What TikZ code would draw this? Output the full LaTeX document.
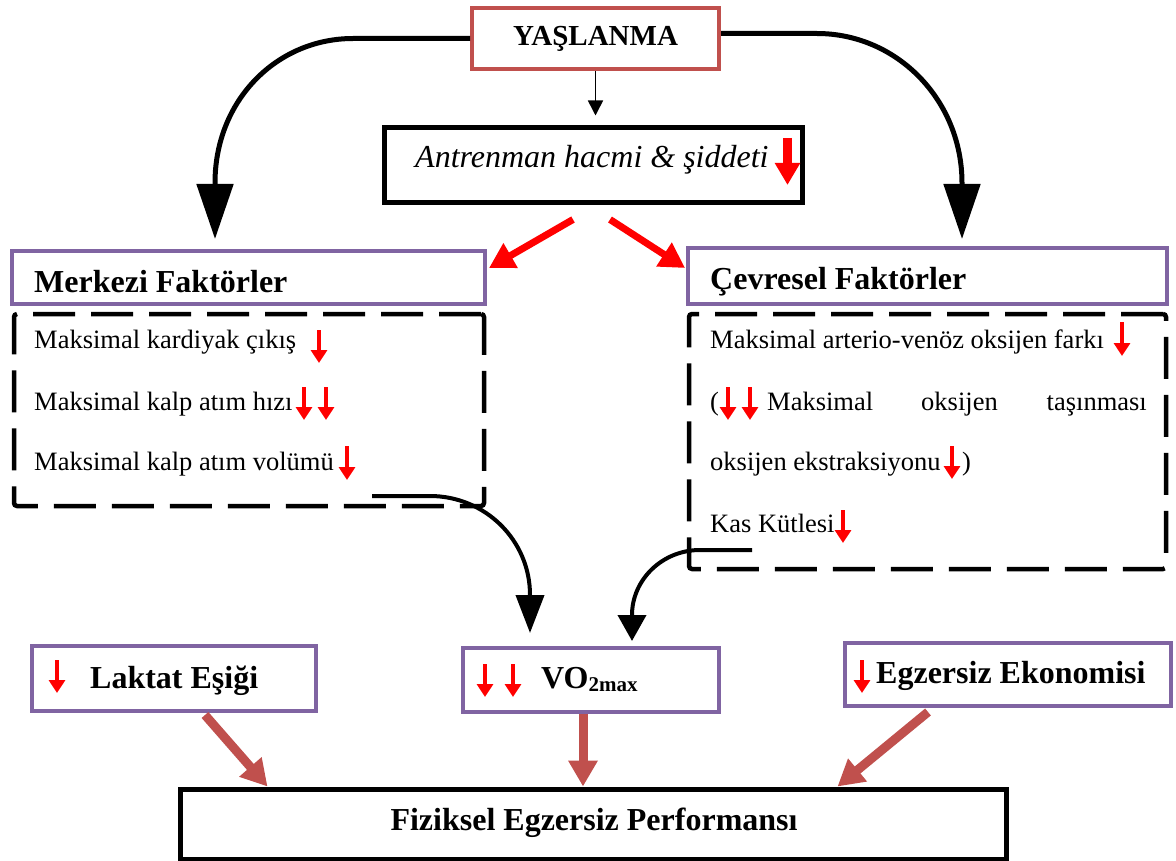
\documentclass[tikz,border=0pt]{standalone}
\usepackage{fontspec}
\setmainfont{Liberation Serif}
\usetikzlibrary{arrows.meta}
\definecolor{boxred}{HTML}{C0504D}
\definecolor{boxpurple}{HTML}{8064A2}
\tikzset{
  redbox/.style={draw=boxred, line width=4pt, inner sep=0pt},
  purplebox/.style={draw=boxpurple, line width=4pt, inner sep=0pt},
  blackbox/.style={draw=black, line width=5pt, inner sep=0pt},
  dashbox/.style={draw=black, line width=4.5pt, dash pattern=on 42pt off 16pt, rounded corners=3pt, inner sep=0pt},
  txt/.style={inner sep=0pt, anchor=base west, font=\fontsize{26.5}{30}\selectfont},
  head/.style={inner sep=0pt, anchor=base west, font=\fontsize{32}{36}\selectfont\bfseries},
  bigcurve/.style={line width=5pt, -{Triangle[length=55pt,width=36pt]}},
  midcurve/.style={line width=4pt},
  thinarr/.style={line width=1.6pt, -{Triangle[length=15pt,width=15pt]}},
  redarr/.style={draw=red, line width=7pt, -{Triangle[length=25pt,width=27pt]}},
  perfarr/.style={draw=boxred, line width=9pt, -{Triangle[length=26pt,width=28pt]}},
  dn/.style={draw=red, line width=3.5pt, -{Triangle[length=13pt,width=16pt]}},
}
\begin{document}
\begin{tikzpicture}[x=1pt,y=-1pt]
\fill[white] (0,0) rectangle (1176,861);
\useasboundingbox (0,0) rectangle (1176,861);

% boxes
\node[redbox, minimum width=247pt, minimum height=61pt, font=\fontsize{29}{32}\selectfont\bfseries] (yas) at (595.5,38.5) {YAŞLANMA};
\node[blackbox, minimum width=418pt, minimum height=75pt] (ant) at (593,165.5) {};
\node[purplebox, minimum width=473pt, minimum height=53pt] (merk) at (248.5,277.5) {};
\node[dashbox, minimum width=470pt, minimum height=192pt] (merkd) at (249,410) {};
\node[purplebox, minimum width=479pt, minimum height=56pt] (cev) at (927.5,276) {};
\node[dashbox, minimum width=477pt, minimum height=255pt] (cevd) at (927.5,441.5) {};
\node[purplebox, minimum width=284pt, minimum height=65pt] (lak) at (174,678.5) {};
\node[purplebox, minimum width=256pt, minimum height=64pt] (vo2) at (591,680) {};
\node[purplebox, minimum width=326pt, minimum height=63pt] (eko) at (1008,674.5) {};
\node[blackbox, minimum width=826pt, minimum height=70pt] (fiz) at (593,824) {};

% texts
\node[inner sep=0pt, anchor=base west, font=\fontsize{32}{36}\selectfont\itshape] (antt) at (415,168) {Antrenman hacmi \& şiddeti};
\node[head] (merkt) at (34,293) {Merkezi Faktörler};
\node[head] (cevt) at (710,290) {Çevresel Faktörler};
\node[txt] (m1) at (34,348) {Maksimal kardiyak çıkış};
\node[txt] (m2) at (34,410) {Maksimal kalp atım hızı};
\node[txt] (m3) at (34,470) {Maksimal kalp atım volümü};
\node[txt] (c1) at (710,348) {Maksimal arterio-venöz oksijen farkı};
\node[txt] (c2a) at (710,410) {(};
\node[txt] (c2b) at (767,410) {Maksimal};
\node[txt] (c2c) at (921,410) {oksijen};
\node[txt, anchor=base east] (c2d) at (1147,410) {taşınması};
\node[txt] (c3) at (710,470) {oksijen ekstraksiyonu};
\node[txt] (c3p) at (962,470) {)};
\node[txt] (c4) at (710,532) {Kas Kütlesi};
\node[head] (lakt) at (90,688) {Laktat Eşiği};
\node[head] (vot) at (541,688) {VO\raisebox{-3pt}{\fontsize{21}{21}\selectfont 2max}};
\node[head] (ekot) at (876,683) {Egzersiz Ekonomisi};
\node[head, anchor=base] (fizt) at (594,830) {Fiziksel Egzersiz Performansı};

% red down markers
\draw[draw=red, line width=9pt, -{Triangle[length=22pt,width=24pt]}] (787.5,138) -- (787.5,185);
\draw[dn] (319,330) -- (319,363);
\draw[dn] (304,387) -- (304,420);
\draw[dn] (326,387) -- (326,420);
\draw[dn] (347,446) -- (347,480);
\draw[dn] (1122,322) -- (1122,356);
\draw[dn] (728,387) -- (728,420);
\draw[dn] (750,387) -- (750,420);
\draw[dn] (952,446) -- (952,479);
\draw[dn] (843,510) -- (843,543);
\draw[dn] (57,660) -- (57,693);
\draw[dn] (485,664) -- (485,697);
\draw[dn] (513,664) -- (513,697);
\draw[dn] (862,660) -- (862,693);

% connectors
\coordinate (ltip) at (215,239);
\coordinate (rtip) at (962,239);
\draw[bigcurve] (yas.west) -- (353,38.5) .. controls (277,38.5) and (215,100) .. (215,183) -- (ltip);
\draw[bigcurve] ([yshift=5pt]yas.east) -- (817,33.5) .. controls (897,33.5) and (962,100) .. (962,183) -- (rtip);
\draw[thinarr] (yas.south) -- ([yshift=10pt]yas.south |- ant.north);

\draw[redarr] ([xshift=-20pt,yshift=-14pt]ant.south) -- ([xshift=2pt,yshift=-19pt]merk.north east);
\draw[redarr] ([xshift=17pt,yshift=-14pt]ant.south) -- ([xshift=-1pt,yshift=-22pt]cev.north west);

\coordinate (ms) at (372,496);
\coordinate (cs) at (752,550);
\coordinate (vtl) at (530,633);
\coordinate (vtr) at (632,641);
\draw[midcurve, -{Triangle[length=38pt,width=28pt]}] (ms) -- (430,496) .. controls (485,496) and (530,540) .. (530,595) -- (vtl);
\draw[midcurve, -{Triangle[length=26pt,width=28pt]}] (cs) -- (700,550) .. controls (662,550) and (632,580) .. (632,615) -- (vtr);

\draw[perfarr] ([xshift=31pt,yshift=-2pt]lak.south) -- ([xshift=90pt]fiz.north west);
\draw[perfarr] ([xshift=-8pt]vo2.south) -- ([xshift=-8pt]vo2.south |- fiz.north);
\draw[perfarr] ([xshift=-80pt,yshift=-4pt]eko.south) -- ([xshift=-171pt]fiz.north east);
\end{tikzpicture}
\end{document}
